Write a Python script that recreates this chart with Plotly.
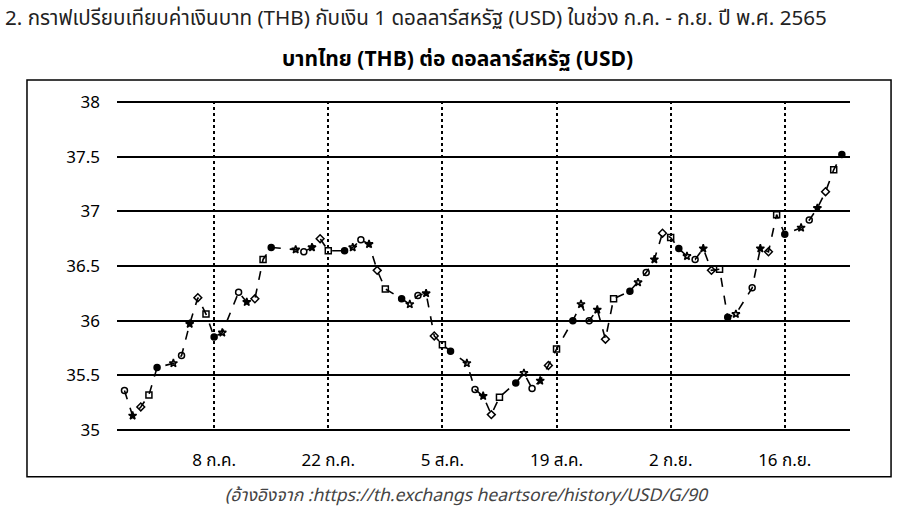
import plotly.graph_objects as go

# THB per 1 USD (Jul - Sep 2565 / 2022)
dates = [
    "2022-06-27", "2022-06-28", "2022-06-29", "2022-06-30", "2022-07-01",
    "2022-07-03", "2022-07-04", "2022-07-05", "2022-07-06", "2022-07-07",
    "2022-07-08", "2022-07-09", "2022-07-11", "2022-07-12", "2022-07-13",
    "2022-07-14", "2022-07-15", "2022-07-18", "2022-07-19", "2022-07-20",
    "2022-07-21", "2022-07-22", "2022-07-24", "2022-07-25", "2022-07-26",
    "2022-07-27", "2022-07-28", "2022-07-29", "2022-07-31", "2022-08-01",
    "2022-08-02", "2022-08-03", "2022-08-04", "2022-08-05", "2022-08-06",
    "2022-08-08", "2022-08-09", "2022-08-10", "2022-08-11", "2022-08-12",
    "2022-08-14", "2022-08-15", "2022-08-16", "2022-08-17", "2022-08-18",
    "2022-08-19", "2022-08-21", "2022-08-22", "2022-08-23", "2022-08-24",
    "2022-08-25", "2022-08-26", "2022-08-28", "2022-08-29", "2022-08-30",
    "2022-08-31", "2022-09-01", "2022-09-02", "2022-09-03", "2022-09-04",
    "2022-09-05", "2022-09-06", "2022-09-07", "2022-09-08", "2022-09-09",
    "2022-09-10", "2022-09-12", "2022-09-13", "2022-09-14", "2022-09-15",
    "2022-09-16", "2022-09-18", "2022-09-19", "2022-09-20", "2022-09-21",
    "2022-09-22", "2022-09-23",
]
thb = [
    35.36, 35.13, 35.21, 35.32, 35.57,
    35.61, 35.68, 35.97, 36.21, 36.06,
    35.85, 35.89, 36.26, 36.17, 36.20,
    36.56, 36.67, 36.65, 36.63, 36.67,
    36.75, 36.64, 36.64, 36.67, 36.74,
    36.70, 36.46, 36.29, 36.20, 36.15,
    36.23, 36.25, 35.86, 35.78, 35.72,
    35.61, 35.37, 35.31, 35.14, 35.30,
    35.43, 35.52, 35.38, 35.45, 35.59,
    35.74, 36.00, 36.15, 36.00, 36.10,
    35.83, 36.20, 36.27, 36.35, 36.44,
    36.56, 36.80, 36.76, 36.66, 36.59,
    36.56, 36.66, 36.46, 36.47, 36.03,
    36.06, 36.30, 36.66, 36.63, 36.97,
    36.79, 36.85, 36.92, 37.03, 37.18,
    37.38, 37.52,
]

tick_dates = ["2022-07-08", "2022-07-22", "2022-08-05", "2022-08-19", "2022-09-02", "2022-09-16"]
tick_text = ["8 ก.ค.", "22 ก.ค.", "5 ส.ค.", "19 ส.ค.", "2 ก.ย.", "16 ก.ย."]
y_ticks = [35, 35.5, 36, 36.5, 37, 37.5, 38]

FONT = "Tahoma, Noto Sans Thai, Noto Sans, sans-serif"
symbols = ["circle-open", "star", "diamond-open", "square-open", "circle", "star-open"]

fig = go.Figure()
fig.add_trace(go.Scatter(
    x=dates, y=thb, mode="lines+markers",
    line=dict(color="black", width=1.6, dash="dash"),
    marker=dict(symbol=[symbols[i % len(symbols)] for i in range(len(thb))],
                size=6, color="black", line=dict(color="black", width=1.5)),
    showlegend=False,
))

fig.update_layout(
    width=907, height=511,
    margin=dict(l=117, r=57, t=101, b=80),
    paper_bgcolor="white", plot_bgcolor="white",
    font=dict(family=FONT, size=17, color="black"),
    xaxis=dict(
        range=["2022-06-26 02:00", "2022-09-24"],
        tickvals=tick_dates, ticktext=tick_text,
        showgrid=True, gridcolor="black", gridwidth=1.5, griddash="dot",
        showline=False, zeroline=False, ticks="",
        ticklabelstandoff=17,
    ),
    yaxis=dict(
        range=[34.99, 38.01],
        tickvals=y_ticks, ticktext=[f"{v:g}" for v in y_ticks],
        showgrid=True, gridcolor="black", gridwidth=2,
        showline=False, zeroline=False, ticks="",
        ticklabelstandoff=16,
    ),
    shapes=[dict(type="rect", xref="paper", yref="paper",
                 x0=-0.1228, x1=1.056, y0=-0.139, y1=1.0636,
                 line=dict(color="black", width=1.5), layer="below")],
    annotations=[
        dict(text="2. กราฟเปรียบเทียบค่าเงินบาท (THB) กับเงิน 1 ดอลลาร์สหรัฐ (USD) ในช่วง ก.ค. - ก.ย. ปี พ.ศ. 2565",
             xref="paper", yref="paper", x=-0.155, y=1.25, xanchor="left", yanchor="middle",
             showarrow=False, font=dict(size=20.6, color="#222")),
        dict(text="<b>บาทไทย (THB) ต่อ ดอลลาร์สหรัฐ (USD)</b>",
             xref="paper", yref="paper", x=0.465, y=1.127, xanchor="center", yanchor="middle",
             showarrow=False, font=dict(size=21, color="black")),
        dict(text="<i>(อ้างอิงจาก :https://th.exchangs heartsore/history/USD/G/90</i>",
             xref="paper", yref="paper", x=0.145, y=-0.194, xanchor="left", yanchor="middle",
             showarrow=False, font=dict(size=17.5, color="#444")),
    ],
)

fig.write_html("out.html", config={"displayModeBar": False},
               post_script="document.body.style.margin='0';")
